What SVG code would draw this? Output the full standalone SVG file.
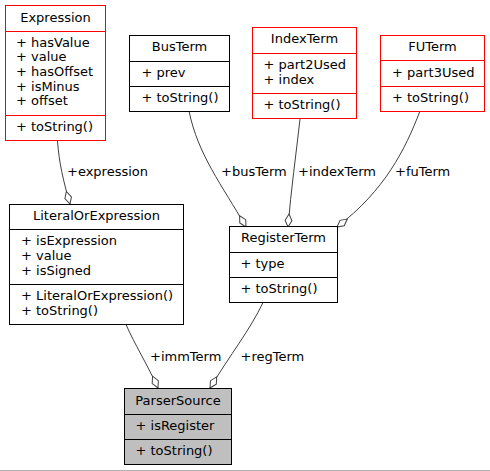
<svg xmlns="http://www.w3.org/2000/svg" width="490" height="471" viewBox="0 0 490 471">
<style>
text{font-family:"DejaVu Sans",Verdana,sans-serif;font-size:13px;fill:#000}
.c{text-anchor:middle}
.box{fill:#fff;stroke:#000;stroke-width:1}
.red{stroke:#ff0000}
.sel{fill:#bfbfbf}
.sep{stroke:#000;stroke-width:1}
.rsep{stroke:#ff0000;stroke-width:1}
.edge{fill:none;stroke:#404040;stroke-width:1;marker-end:url(#od)}
</style>
<defs>
<marker id="od" markerUnits="userSpaceOnUse" markerWidth="16" markerHeight="10" viewBox="-14 -5 16 10" refX="0" refY="0" orient="auto">
<path d="M0,0 L-6.5,-3.4 L-13,0 L-6.5,3.4 Z" fill="#fff" stroke="#404040" stroke-width="1"/>
</marker>
</defs>
<rect width="490" height="471" fill="#fff"/>
<line x1="0" y1="470.5" x2="490" y2="470.5" stroke="#b0b0b0" stroke-width="1"/>

<g id="connectors">
<path class="edge" d="M57.5,141 C59,162 63,180 70,204"/>
<path class="edge" d="M189,111 C198,155 222,185 246,227"/>
<path class="edge" d="M300,119 C296,155 291,190 288,227"/>
<path class="edge" d="M420,111 C405,150 385,190 337,227"/>
<path class="edge" d="M126,324.5 C135,345 146,362 158,388"/>
<path class="edge" d="M263,302.5 C250,330 230,355 210,388"/>
<text x="67" y="176">+expression</text>
<text x="221" y="176">+busTerm</text>
<text x="298" y="176">+indexTerm</text>
<text x="395" y="176">+fuTerm</text>
<text x="150" y="360.5">+immTerm</text>
<text x="240.5" y="360.5">+regTerm</text>
</g>

<g id="Expression">
<rect class="box red" x="5.5" y="5.5" width="100" height="135"/>
<line class="rsep" x1="5.5" y1="31.5" x2="105.5" y2="31.5"/>
<line class="rsep" x1="5.5" y1="115.5" x2="105.5" y2="115.5"/>
<text class="c" x="55.5" y="21.5">Expression</text>
<text x="16" y="46.7">+ hasValue</text>
<text x="16" y="61.3">+ value</text>
<text x="16" y="76">+ hasOffset</text>
<text x="16" y="90.7">+ isMinus</text>
<text x="16" y="105.3">+ offset</text>
<text x="16" y="130.7">+ toString()</text>
</g>

<g id="BusTerm">
<rect class="box" x="129.5" y="35.5" width="100" height="76"/>
<line class="sep" x1="129.5" y1="61.5" x2="229.5" y2="61.5"/>
<line class="sep" x1="129.5" y1="86.5" x2="229.5" y2="86.5"/>
<text class="c" x="179.5" y="51">BusTerm</text>
<text x="141.5" y="77">+ prev</text>
<text x="141.5" y="102">+ toString()</text>
</g>

<g id="IndexTerm">
<rect class="box red" x="252.5" y="27.5" width="104" height="91"/>
<line class="rsep" x1="252.5" y1="53.5" x2="356.5" y2="53.5"/>
<line class="rsep" x1="252.5" y1="93.5" x2="356.5" y2="93.5"/>
<text class="c" x="304.5" y="43.2">IndexTerm</text>
<text x="263.5" y="69">+ part2Used</text>
<text x="263.5" y="83.7">+ index</text>
<text x="263.5" y="109">+ toString()</text>
</g>

<g id="FUTerm">
<rect class="box red" x="380.5" y="35.5" width="104" height="76"/>
<line class="rsep" x1="380.5" y1="60.5" x2="484.5" y2="60.5"/>
<line class="rsep" x1="380.5" y1="86.5" x2="484.5" y2="86.5"/>
<text class="c" x="432.5" y="51">FUTerm</text>
<text x="392" y="76.5">+ part3Used</text>
<text x="392" y="102">+ toString()</text>
</g>

<g id="LiteralOrExpression">
<rect class="box" x="9.5" y="204.5" width="174" height="120"/>
<line class="sep" x1="9.5" y1="229.5" x2="183.5" y2="229.5"/>
<line class="sep" x1="9.5" y1="284.5" x2="183.5" y2="284.5"/>
<text class="c" x="96.5" y="220">LiteralOrExpression</text>
<text x="21" y="245.3">+ isExpression</text>
<text x="21" y="260">+ value</text>
<text x="21" y="274.6">+ isSigned</text>
<text x="21" y="300">+ LiteralOrExpression()</text>
<text x="21" y="314.7">+ toString()</text>
</g>

<g id="RegisterTerm">
<rect class="box" x="229.5" y="226.5" width="108" height="76"/>
<line class="sep" x1="229.5" y1="252.5" x2="337.5" y2="252.5"/>
<line class="sep" x1="229.5" y1="277.5" x2="337.5" y2="277.5"/>
<text class="c" x="283.5" y="242.3">RegisterTerm</text>
<text x="240.5" y="268">+ type</text>
<text x="240.5" y="293">+ toString()</text>
</g>

<g id="ParserSource">
<rect class="box sel" x="124.5" y="388.5" width="107" height="76"/>
<line class="sep" x1="124.5" y1="414.5" x2="231.5" y2="414.5"/>
<line class="sep" x1="124.5" y1="439.5" x2="231.5" y2="439.5"/>
<text class="c" x="178" y="404.5">ParserSource</text>
<text x="135.5" y="430">+ isRegister</text>
<text x="135.5" y="455">+ toString()</text>
</g>
</svg>
